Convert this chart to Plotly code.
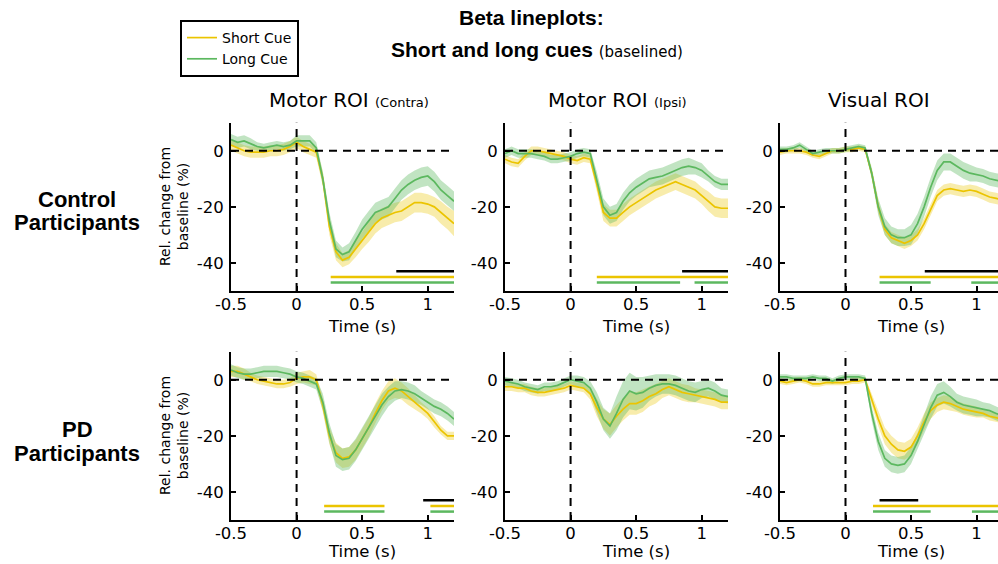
import plotly.graph_objects as go

# ---------------- data ----------------
time_s = [-0.5, -0.45, -0.4, -0.35, -0.3, -0.25, -0.2, -0.15, -0.1, -0.05,
          0.0, 0.05, 0.1, 0.15, 0.2, 0.25, 0.3, 0.35, 0.4, 0.45,
          0.5, 0.55, 0.6, 0.65, 0.7, 0.75, 0.8, 0.85, 0.9, 0.95,
          1.0, 1.05, 1.1, 1.15, 1.2]

# Control participants
ctrl_contra_short = [2, 1, 0, -0.5, -0.5, -0.5, 0, 0, 0.5, 1.5, 3, 1.5, 0.5, -0.5, -10, -27, -36, -39, -38, -35,
                     -32, -29, -26, -24, -23, -22, -21.5, -20, -18.5, -18.5, -19, -20, -22, -24, -26]
ctrl_contra_long = [4, 3, 3.5, 2.5, 1.5, 1, 1.5, 2, 1.5, 2, 3.5, 3.5, 3.5, 1, -10, -25, -35, -37, -36, -32,
                    -28, -25, -22, -21, -20, -17, -14, -12, -10.5, -9.5, -9, -11, -14, -16, -18]
ctrl_ipsi_short = [-3, -4, -4.5, -2, 0, 0, -0.5, -1, -1.5, -2, -3, -3.5, -2.5, -3, -12, -22, -24, -24, -22, -20,
                   -18.5, -17, -15.5, -14, -13, -12, -11, -12, -13, -14, -16, -18, -20, -20.5, -20.5]
ctrl_ipsi_long = [-1, 0, -1, -1, -1, -1.5, -2, -3, -3, -2.5, -2, -1, -0.5, -1, -10, -20, -23, -22, -18, -15,
                  -13, -11.5, -10, -9.5, -9, -8, -7, -6, -5.5, -6, -7, -9, -11, -12, -12]
ctrl_vis_short = [-0.5, 0, 0, 0, -0.5, -1.5, -2, -1, 0, 0, 0.5, 0.5, 1, 0.5, -8, -20, -28, -31, -32, -33,
                  -32, -30, -26, -21, -16, -14, -13.5, -14, -14.5, -14, -14.5, -15.5, -16.5, -17, -17.5]
ctrl_vis_long = [0.5, 0.5, 1, 2, 0.5, -1, -0.5, 0, 0, 0, 0.5, 1, 1.5, 1, -8, -20, -27, -30, -31, -31,
                 -30, -26, -20, -13, -7, -4, -4, -5.5, -7, -8, -8.5, -9, -10, -10.5, -11]

# PD participants
pd_contra_short = [3, 3, 2, 1, 0, -0.5, -1, -1.5, -1.5, -1, 0.5, 1, 1, 0, -9, -20, -26, -28, -27.5, -25,
                   -21, -17, -12, -7.5, -4, -3, -4, -6, -8, -10, -12, -15, -18, -20, -20]
pd_contra_long = [3.5, 2.5, 2, 2, 2.5, 3, 3, 3, 2.5, 2, 1, 0.5, -0.5, -1.5, -8, -19, -27, -28.5, -28, -25,
                  -21, -17, -13, -9, -6, -4, -3.5, -4, -5, -6.5, -8, -9.5, -10.5, -12, -14]
pd_ipsi_short = [-2.5, -2.5, -3, -3, -4, -4.5, -4.5, -4, -3.5, -3, -2, -2.5, -3, -5, -10, -14, -16, -13, -10.5, -8.5,
                 -8.5, -7.5, -6, -5, -3.5, -2.5, -3.5, -4.5, -5, -5.5, -6, -6.5, -7, -8, -8]
pd_ipsi_long = [-0.5, -1, -1.5, -2.5, -3, -3.5, -2.5, -2.5, -2, -1, 0, -0.5, -1, -3, -8, -14, -16.5, -12, -7, -4,
                -5, -4.5, -3, -2, -1.5, -1.5, -2, -3, -4, -4.5, -3.5, -3, -4, -5.5, -6]
pd_vis_short = [-0.5, -1, -0.5, 0, -0.5, -1.5, -1.5, -1, -1, -1, -1, -0.5, -0.5, 0, -7, -14, -20, -23, -25, -25.5,
                -24, -20, -15, -11, -9, -8, -8.5, -9.5, -10.5, -11, -11.5, -12, -13, -13.5, -14]
pd_vis_long = [1, 1, 0.5, 0.5, 0.5, 1, 0.5, 0.5, -0.5, 0.5, 1, 1, 1, 0.5, -12, -22, -28, -30, -30.5, -30,
               -27, -22, -16, -10, -5.5, -4.5, -6, -8, -9, -9.5, -10, -10.5, -11, -12, -13]

# standard errors (half-width of shaded band)
ctrl_contra_short_se = [2, 2, 2, 2, 2, 2, 2, 2, 2, 2, 2, 2, 2, 2, 2.5, 3, 3, 2.5, 2.5, 3,
                        3, 3.5, 3.5, 3.5, 3.5, 3.5, 3.5, 3.5, 3.5, 3.5, 3.5, 3.5, 4, 4, 4.5]
ctrl_contra_long_se = [2, 2, 2, 2, 1.5, 1.5, 1.5, 1.5, 1.5, 1.5, 2, 2, 2, 2, 2.5, 3, 3, 2.5, 3, 3,
                       3.5, 3.5, 3.5, 3.5, 3.5, 3.5, 3.5, 3.5, 3.5, 3.5, 3.5, 3.5, 3.5, 3.5, 3.5]
ctrl_ipsi_short_se = [1.5, 1.5, 1.5, 1.5, 1.5, 1.5, 1.5, 1.5, 1.5, 1.5, 1.5, 1.5, 1.5, 1.5, 2.5, 3, 3, 3, 3, 3,
                      3, 3, 3, 3, 3, 3, 3, 3, 3, 3, 3, 3.5, 3.5, 3.5, 3.5]
ctrl_ipsi_long_se = [1.5, 1.5, 1.5, 1.5, 1.5, 1.5, 1.5, 1.5, 1.5, 1.5, 1.5, 1.5, 1.5, 1.5, 2.5, 3, 3, 3, 3, 3,
                     3, 3, 3, 3, 3, 3, 3, 3, 3, 2.5, 2.5, 2, 2, 2, 2]
ctrl_vis_short_se = [1, 1, 1, 1, 1, 1, 1, 1, 1, 1, 1, 1, 1, 1, 1.5, 2, 2, 2, 2, 2,
                     2, 2, 2, 2, 2, 2, 2, 2, 2, 2, 2, 2, 2, 2, 2]
ctrl_vis_long_se = [1, 1, 1, 1, 1, 1, 1, 1, 1, 1, 1, 1, 1, 1, 2, 3, 3, 3, 3, 3,
                    3.5, 3.5, 3.5, 3.5, 3.5, 3, 3, 3, 3, 3, 2.5, 2.5, 2.5, 2.5, 2.5]
pd_contra_short_se = [2, 2, 2, 1.5, 1.5, 1.5, 1.5, 1.5, 1.5, 1.5, 2, 2, 2.5, 2, 2.5, 3, 3.5, 3.5, 3.5, 3.5,
                      3.5, 3.5, 3.5, 3.5, 3.5, 3.5, 3, 3, 2.5, 2, 2, 2, 1.5, 1.5, 1.5]
pd_contra_long_se = [2, 2, 2, 2, 2, 2, 2, 2, 2, 2, 2, 2, 2, 2, 3, 3.5, 4, 4, 4, 4,
                     4, 4, 4, 4, 3.5, 3.5, 3, 3, 3, 2.5, 2.5, 2.5, 2.5, 2.5, 2.5]
pd_ipsi_short_se = [1.5, 1.5, 1.5, 1.5, 1.5, 1.5, 1.5, 1.5, 1.5, 1.5, 1.5, 1.5, 1.5, 2, 3, 3.5, 4, 4, 4, 4,
                    4, 4, 3.5, 3.5, 3, 3, 3, 3, 3, 2.5, 2.5, 2.5, 2.5, 2.5, 2.5]
pd_ipsi_long_se = [1.5, 1.5, 1.5, 1.5, 1.5, 1.5, 1.5, 1.5, 1.5, 1.5, 1.5, 2, 2, 2.5, 3.5, 4, 4.5, 6, 6.5, 6.5,
                   6, 5.5, 4.5, 4, 3.5, 3.5, 3.5, 3.5, 3.5, 3.5, 3, 3, 3, 2.5, 2.5]
pd_vis_short_se = [1, 1, 1, 1, 1, 1, 1, 1, 1, 1, 1, 1, 1, 1, 2, 2.5, 3, 3, 3, 3,
                   3, 3, 3, 3, 2.5, 2.5, 2.5, 2, 2, 2, 2, 1.5, 1.5, 1.5, 1.5]
pd_vis_long_se = [1, 1, 1, 1, 1, 1, 1, 1, 1, 1, 1, 1, 1, 1, 2.5, 3, 3, 3, 3, 3,
                  3, 3, 3.5, 4, 4, 4, 3.5, 3, 3, 3, 3, 2.5, 2.5, 2.5, 2.5]

# significance bars: (panel, kind, y level, start, end)
sig_panel = ["c1", "c1", "c1", "c2", "c2", "c2", "c2", "c3", "c3", "c3", "c3",
             "p1", "p1", "p1", "p1", "p1", "p3", "p3", "p3", "p3"]
sig_kind = ["diff", "short", "long", "diff", "short", "long", "long", "diff", "short", "long", "long",
            "short", "long", "diff", "short", "long", "diff", "short", "long", "long"]
sig_level = [-43, -45, -47, -43, -45, -47, -47, -43, -45, -47, -47,
             -45, -47, -43, -45, -47, -43, -45, -47, -47]
sig_start = [0.76, 0.26, 0.26, 0.85, 0.2, 0.2, 0.945, 0.605, 0.26, 0.26, 0.96,
             0.21, 0.21, 0.965, 1.02, 1.02, 0.26, 0.21, 0.21, 0.965]
sig_end = [1.2, 1.2, 1.2, 1.2, 1.2, 0.835, 1.2, 1.2, 1.2, 0.65, 1.2,
           0.67, 0.67, 1.2, 1.2, 1.2, 0.555, 1.2, 0.65, 1.2]

x_ticks = [-0.5, 0, 0.5, 1]
x_ticktext = ["-0.5", "0", "0.5", "1"]
y_ticks = [-40, -20, 0]
y_ticktext = ["-40", "-20", "0"]

col_titles = ["Motor ROI <span style='font-size:13px'>(Contra)</span>",
              "Motor ROI <span style='font-size:13px'>(Ipsi)</span>",
              "Visual ROI"]

# ---------------- figure ----------------
W, H = 998, 564
FONT = "DejaVu Sans, Verdana, sans-serif"
BFONT = "Liberation Sans, Arial, sans-serif"
YEL = "#EBC400"
GRN = "#5CB85F"
YEL_F = "rgba(235,196,0,0.33)"
GRN_F = "rgba(92,184,95,0.38)"

panels = {
    "c1": (1, ctrl_contra_short, ctrl_contra_short_se, ctrl_contra_long, ctrl_contra_long_se),
    "c2": (2, ctrl_ipsi_short, ctrl_ipsi_short_se, ctrl_ipsi_long, ctrl_ipsi_long_se),
    "c3": (3, ctrl_vis_short, ctrl_vis_short_se, ctrl_vis_long, ctrl_vis_long_se),
    "p1": (4, pd_contra_short, pd_contra_short_se, pd_contra_long, pd_contra_long_se),
    "p2": (5, pd_ipsi_short, pd_ipsi_short_se, pd_ipsi_long, pd_ipsi_long_se),
    "p3": (6, pd_vis_short, pd_vis_short_se, pd_vis_long, pd_vis_long_se),
}

col_px = [(231, 454), (505, 728), (780, 998)]
row_px = [(122.7, 291), (351.7, 520)]
x_ranges = [[-0.5, 1.2], [-0.5, 1.2], [-0.5, 1.164]]

fig = go.Figure()
layout = dict(
    width=W, height=H, margin=dict(l=0, r=0, t=0, b=0, autoexpand=False),
    paper_bgcolor="white", plot_bgcolor="white",
    font=dict(family=FONT, size=16, color="black"),
    showlegend=True,
    legend=dict(xref="container", yref="container", x=180 / W, y=1 - 20 / H,
                xanchor="left", yanchor="top",
                bgcolor="white", bordercolor="black", borderwidth=2,
                font=dict(size=14, family=FONT), itemwidth=30, tracegroupgap=0),
)

shapes = []
annotations = []

for key, (idx, s_mean, s_se, l_mean, l_se) in panels.items():
    r = (idx - 1) // 3
    c = (idx - 1) % 3
    xa = "x" if idx == 1 else f"x{idx}"
    ya = "y" if idx == 1 else f"y{idx}"
    xl = "xaxis" if idx == 1 else f"xaxis{idx}"
    yl = "yaxis" if idx == 1 else f"yaxis{idx}"
    x0, x1 = col_px[c]
    yt, yb = row_px[r]
    layout[xl] = dict(domain=[x0 / W, x1 / W], anchor=ya, range=x_ranges[c],
                      tickvals=x_ticks, ticktext=x_ticktext, ticks="inside", ticklen=5,
                      tickwidth=1.5, tickcolor="black", showline=True, linecolor="black",
                      linewidth=2, showgrid=False, zeroline=False, automargin=False,
                      ticklabelstandoff=-3,
                      tickfont=dict(size=16.5, family=FONT))
    layout[yl] = dict(domain=[1 - yb / H, 1 - yt / H], anchor=xa, range=[-50, 10],
                      tickvals=y_ticks, ticktext=y_ticktext, ticks="inside", ticklen=5,
                      tickwidth=1.5, tickcolor="black", showline=True, linecolor="black",
                      linewidth=2, showgrid=False, zeroline=False, automargin=False,
                      ticklabelstandoff=2,
                      tickfont=dict(size=16.5, family=FONT))

    # shaded SEM bands
    for mean, se, fcol in ((s_mean, s_se, YEL_F), (l_mean, l_se, GRN_F)):
        upper = [m + e for m, e in zip(mean, se)]
        lower = [m - e for m, e in zip(mean, se)]
        fig.add_trace(go.Scatter(x=time_s + time_s[::-1], y=upper + lower[::-1],
                                 fill="toself", fillcolor=fcol, line=dict(width=0),
                                 mode="lines", hoverinfo="skip", showlegend=False,
                                 xaxis=xa, yaxis=ya))
    # mean lines
    fig.add_trace(go.Scatter(x=time_s, y=s_mean, mode="lines", line=dict(color=YEL, width=1.7),
                             name="Short Cue", showlegend=(idx == 1), xaxis=xa, yaxis=ya))
    fig.add_trace(go.Scatter(x=time_s, y=l_mean, mode="lines", line=dict(color=GRN, width=1.7),
                             name="Long Cue", showlegend=(idx == 1), xaxis=xa, yaxis=ya))

    # significance bars
    colors = {"diff": "black", "short": YEL, "long": GRN}
    for p, k, lv, s0, s1 in zip(sig_panel, sig_kind, sig_level, sig_start, sig_end):
        if p == key:
            fig.add_trace(go.Scatter(x=[s0, s1], y=[lv, lv], mode="lines",
                                     line=dict(color=colors[k], width=2.5),
                                     showlegend=False, hoverinfo="skip", xaxis=xa, yaxis=ya))

    # dashed reference lines
    shapes.append(dict(type="line", xref=f"{xa} domain", yref=ya, x0=0, x1=1, y0=0, y1=0,
                       line=dict(color="black", width=2, dash="8px,6px")))
    shapes.append(dict(type="line", xref=xa, yref=f"{ya} domain", x0=0, x1=0, y0=0, y1=1,
                       line=dict(color="black", width=2, dash="8px,6px")))

    # Time (s) label
    annotations.append(dict(text="Time (s)", xref=xa, yref="paper", x=0.5,
                            y=1 - (326 if r == 0 else 551) / H, showarrow=False,
                            xanchor="center", yanchor="middle", font=dict(size=16.5, family=FONT)))

layout["shapes"] = shapes

# column titles
for cx, t in zip([349, 617, 879], col_titles):
    annotations.append(dict(text=t, xref="paper", yref="paper", x=cx / W, y=1 - 100 / H,
                            showarrow=False, xanchor="center", yanchor="middle",
                            font=dict(size=20, family=FONT)))

# y axis titles
for cy in (207, 436):
    annotations.append(dict(text="Rel. change from<br>baseline (%)", xref="paper", yref="paper",
                            x=174 / W, y=1 - cy / H, textangle=-90, showarrow=False,
                            xanchor="center", yanchor="middle", font=dict(size=14, family=FONT)))

# row labels
for txt, cy in (("Control", 199), ("Participants", 223), ("PD", 429), ("Participants", 453)):
    annotations.append(dict(text=f"<b>{txt}</b>", xref="paper", yref="paper", x=77 / W,
                            y=1 - cy / H, showarrow=False, xanchor="center", yanchor="middle",
                            font=dict(size=22, family=BFONT)))

# main title
annotations.append(dict(text="<b>Beta lineplots:</b>", xref="paper", yref="paper", x=531 / W,
                        y=1 - 17 / H, showarrow=False, xanchor="center", yanchor="middle",
                        font=dict(size=21, family=BFONT)))
annotations.append(dict(text="<b>Short and long cues</b> <span style='font-size:15px; font-family:DejaVu Sans'>(baselined)</span>",
                        xref="paper", yref="paper", x=537 / W, y=1 - 50 / H, showarrow=False,
                        xanchor="center", yanchor="middle", font=dict(size=21, family=BFONT)))

layout["annotations"] = annotations
fig.update_layout(**layout)
fig.write_html("out.html")
